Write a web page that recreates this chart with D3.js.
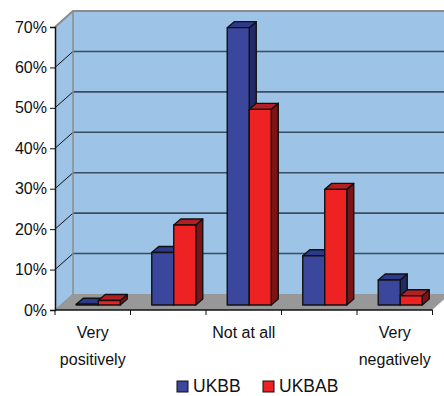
<!DOCTYPE html>
<html>
<head>
<meta charset="utf-8">
<script src="https://cdn.jsdelivr.net/npm/d3@7"></script>
<style>
  html, body { margin: 0; padding: 0; background: #fff; }
  svg { display: block; font-family: "Liberation Sans", Arial, sans-serif; }
</style>
</head>
<body>
<svg id="chart" width="444" height="396"></svg>
<script>
// Response categories (x axis), multi-line labels
const categories = ["Very positively", "Positively", "Not at all", "Negatively", "Very negatively"];
const categoryLabels = [["Very", "positively"], [""], ["Not at all"], [""], ["Very", "negatively"]];
const seriesNames = ["UKBB", "UKBAB"];
const ukbb = [0.2, 13.0, 68.6, 12.2, 6.2];
const ukbab = [1.1, 19.8, 48.4, 28.6, 2.3];
const yTicks = [0, 10, 20, 30, 40, 50, 60, 70];

const colors = {
  UKBB: { front: "#3A479C", top: "#2E398A", side: "#222A66" },
  UKBAB: { front: "#EE2222", top: "#B22024", side: "#7C1416" }
};

const svg = d3.select("#chart");

// Front plane of the 3D box
const x0 = 55, x1 = 432.5, yBase = 310, yTop = 27;
// Depth of the walls and of the bars
const wallDx = 18, wallDy = -16;
const barDx = 7, barDy = -6;
const barOffX = (wallDx - barDx) / 2, barOffY = (wallDy - barDy) / 2;

const x = d3.scaleBand().domain(categories).range([x0, x1]).paddingInner(0).paddingOuter(0);
const y = d3.scaleLinear().domain([0, 70]).range([yBase, yTop]);
const groupW = 44;
const xs = d3.scaleBand().domain(seriesNames).range([0, groupW]);

const pts = a => a.map(p => p.join(",")).join(" ");

// Back wall
const backX0 = x0 + wallDx, backX1 = 452;
svg.append("polygon")
  .attr("points", pts([[backX0, y(70) + wallDy], [backX1, y(70) + wallDy], [backX1, yBase + wallDy], [backX0, yBase + wallDy]]))
  .attr("fill", "#9DC3E6");
// Left side wall
svg.append("polygon")
  .attr("points", pts([[x0, yBase], [x0, y(70)], [backX0, y(70) + wallDy], [backX0, yBase + wallDy]]))
  .attr("fill", "#9DC3E6");
// Floor
svg.append("polygon")
  .attr("points", pts([[x0, yBase], [x1, yBase], [x1 + wallDx, yBase + wallDy], [backX0, yBase + wallDy]]))
  .attr("fill", "#989898");

// Gridlines on the back wall and the side wall
yTicks.forEach(t => {
  if (t > 0 && t < 70) {
    svg.append("line")
      .attr("x1", backX0).attr("x2", backX1)
      .attr("y1", y(t) + wallDy).attr("y2", y(t) + wallDy)
      .attr("stroke", "#3B4D60").attr("stroke-width", 1.6);
  }
  if (t > 0) {
    svg.append("line")
      .attr("x1", x0).attr("y1", y(t))
      .attr("x2", backX0).attr("y2", y(t) + wallDy)
      .attr("stroke", "#111").attr("stroke-width", 1);
  }
});

// Wall outlines
svg.append("polyline")
  .attr("points", pts([[x0, y(70)], [backX0, y(70) + wallDy], [backX1, y(70) + wallDy]]))
  .attr("fill", "none").attr("stroke", "#8C8C8C").attr("stroke-width", 2);
svg.append("line")
  .attr("x1", backX0).attr("x2", backX0)
  .attr("y1", y(70) + wallDy).attr("y2", yBase + wallDy)
  .attr("stroke", "#8C8C8C").attr("stroke-width", 1.5);
svg.append("line")
  .attr("x1", x0).attr("y1", yBase)
  .attr("x2", backX0).attr("y2", yBase + wallDy)
  .attr("stroke", "#8C8C8C").attr("stroke-width", 1);
svg.append("line")
  .attr("x1", x1).attr("y1", yBase)
  .attr("x2", x1 + wallDx).attr("y2", yBase + wallDy)
  .attr("stroke", "#eee").attr("stroke-width", 1);

// Bars
const data = categories.map((c, i) => ({ cat: c, values: [ukbb[i], ukbab[i]] }));
const bars = svg.append("g").attr("stroke", "#111").attr("stroke-width", 1.4).attr("stroke-linejoin", "round");
data.forEach(d => {
  const cx = x(d.cat) + x.bandwidth() / 2 + barOffX;
  seriesNames.forEach((s, si) => {
    const v = d.values[si];
    const L = cx - groupW / 2 + xs(s), R = L + xs.bandwidth();
    const B = y(0) + barOffY, T = y(v) + barOffY;
    const c = colors[s];
    const g = bars.append("g");
    g.append("polygon")
      .attr("points", pts([[R, T], [R + barDx, T + barDy], [R + barDx, B + barDy], [R, B]]))
      .attr("fill", c.side);
    g.append("polygon")
      .attr("points", pts([[L, T], [R, T], [R + barDx, T + barDy], [L + barDx, T + barDy]]))
      .attr("fill", c.top);
    g.append("rect")
      .attr("x", L).attr("y", T).attr("width", R - L).attr("height", Math.max(0, B - T))
      .attr("fill", c.front);
  });
});

// Y axis
const yAxis = d3.axisLeft(y).tickValues(yTicks).tickSize(5).tickFormat(d => d + "%");
const ya = svg.append("g").attr("transform", `translate(${x0},0)`).call(yAxis);
ya.select(".domain").attr("stroke", "#111").attr("stroke-width", 1.5);
ya.selectAll(".tick line").attr("stroke", "#111");
ya.selectAll(".tick text")
  .attr("font-family", "Liberation Sans, Arial, sans-serif")
  .attr("font-size", 16).attr("fill", "#111").attr("x", -8);

// X axis with ticks at category boundaries
svg.append("line")
  .attr("x1", x0).attr("x2", x1).attr("y1", yBase).attr("y2", yBase)
  .attr("stroke", "#111").attr("stroke-width", 1.5);
categories.forEach((c, i) => {
  [x(c), x(c) + x.bandwidth()].forEach((xx, k) => {
    if (k === 0 || i === categories.length - 1) {
      svg.append("line")
        .attr("x1", xx).attr("x2", xx).attr("y1", yBase).attr("y2", yBase + 5)
        .attr("stroke", "#111").attr("stroke-width", 1);
    }
  });
  const lines = categoryLabels[i];
  const tx = svg.append("text")
    .attr("x", x(c) + x.bandwidth() / 2)
    .attr("text-anchor", "middle")
    .attr("font-size", 16).attr("fill", "#111");
  lines.forEach((ln, j) => {
    tx.append("tspan")
      .attr("x", x(c) + x.bandwidth() / 2)
      .attr("y", 338 + j * 26.5)
      .text(ln);
  });
});

// Legend
const legend = svg.append("g");
const legendItems = [
  { name: "UKBB", x: 177 },
  { name: "UKBAB", x: 263 }
];
legendItems.forEach(it => {
  legend.append("rect")
    .attr("x", it.x).attr("y", 381).attr("width", 11).attr("height", 11)
    .attr("fill", colors[it.name].front).attr("stroke", "#111").attr("stroke-width", 1);
  legend.append("text")
    .attr("x", it.x + 16).attr("y", 392)
    .attr("font-size", 17.5).attr("fill", "#111")
    .text(it.name);
});
</script>
</body>
</html>
